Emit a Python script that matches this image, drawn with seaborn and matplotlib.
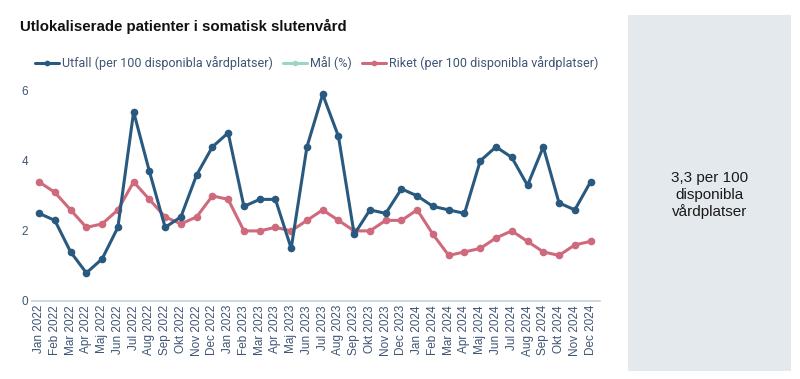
import pandas as pd
import matplotlib
matplotlib.use("Agg")
import matplotlib.pyplot as plt
import seaborn as sns
from matplotlib.patches import Rectangle

# data
manader = ["Jan", "Feb", "Mar", "Apr", "Maj", "Jun", "Jul", "Aug", "Sep", "Okt", "Nov", "Dec"]
ar = [2022, 2023, 2024]
etiketter = [f"{m} {a}" for a in ar for m in manader]

utfall = [2.5, 2.3, 1.4, 0.8, 1.2, 2.1, 5.4, 3.7, 2.1, 2.4, 3.6, 4.4,
          4.8, 2.7, 2.9, 2.9, 1.5, 4.4, 5.9, 4.7, 1.9, 2.6, 2.5, 3.2,
          3.0, 2.7, 2.6, 2.5, 4.0, 4.4, 4.1, 3.3, 4.4, 2.8, 2.6, 3.4]
riket = [3.4, 3.1, 2.6, 2.1, 2.2, 2.6, 3.4, 2.9, 2.4, 2.2, 2.4, 3.0,
         2.9, 2.0, 2.0, 2.1, 2.0, 2.3, 2.6, 2.3, 2.0, 2.0, 2.3, 2.3,
         2.6, 1.9, 1.3, 1.4, 1.5, 1.8, 2.0, 1.7, 1.4, 1.3, 1.6, 1.7]
mal = []  # no values, legend only

senaste = "3,3 per 100\ndisponibla\nvårdplatser"

# colours
BLA = "#29597f"
GRON = "#9dd6bf"
ROSA = "#cf6a7d"
TEXT = "#3e5573"
AXEL = "#c5d0dc"
PANEL = "#e4e9ee"

sns.set_theme(style="white")
plt.rcParams["font.family"] = ["Liberation Sans", "DejaVu Sans"]

df = pd.DataFrame({"manad": etiketter, "Utfall": utfall, "Riket": riket})
df["x"] = range(len(df))

fig = plt.figure(figsize=(8, 3.79), dpi=100)
ax = fig.add_axes([0.04, 0.206, 0.71, 0.57])

sns.lineplot(data=df, x="x", y="Utfall", ax=ax, color=BLA, linewidth=2.2,
             marker="o", markersize=5.5, markeredgewidth=0,
             label="Utfall (per 100 disponibla vårdplatser)", zorder=3)
ax.plot(range(len(mal)), mal, color=GRON, linewidth=2.2, marker="o",
        markersize=4, label="Mål (%)")
sns.lineplot(data=df, x="x", y="Riket", ax=ax, color=ROSA, linewidth=2.2,
             marker="o", markersize=5.5, markeredgewidth=0,
             label="Riket (per 100 disponibla vårdplatser)", zorder=2)

ax.set_xlim(-0.45, 35.6)
ax.set_ylim(0, 6.17)
ax.set_xticks(df["x"])
ax.set_xticklabels(etiketter, rotation=90, fontsize=8.5, color=TEXT)
ax.set_yticks([0, 2, 4, 6])
ax.set_yticklabels(["0", "2", "4", "6"], fontsize=8.5, color=TEXT)
ax.tick_params(axis="both", length=0, pad=3)
ax.set_xlabel("")
ax.set_ylabel("")
sns.despine(ax=ax, left=True)
ax.spines["bottom"].set_color(AXEL)
ax.spines["bottom"].set_linewidth(1.2)

leg = ax.legend(loc="center", bbox_to_anchor=(0.396, 0.834), bbox_transform=fig.transFigure,
                ncol=3, frameon=False, handlelength=1.9, handletextpad=0.25,
                columnspacing=0.8, labelcolor=TEXT, markerscale=0.75,
                prop={"family": "Roboto", "size": 9})

fig.text(0.025, 0.93, "Utlokaliserade patienter i somatisk slutenvård",
         fontsize=10.8, fontweight="bold", color="#111111", va="center")

fig.patches.append(Rectangle((0.785, 0.021), 0.204, 0.939, transform=fig.transFigure,
                             facecolor=PANEL, edgecolor="none", zorder=0))
fig.text(0.8875, 0.485, senaste, ha="center", va="center", fontsize=11,
         color="#1a1a1a", linespacing=1.2)

fig.savefig("out.png", dpi=100)
